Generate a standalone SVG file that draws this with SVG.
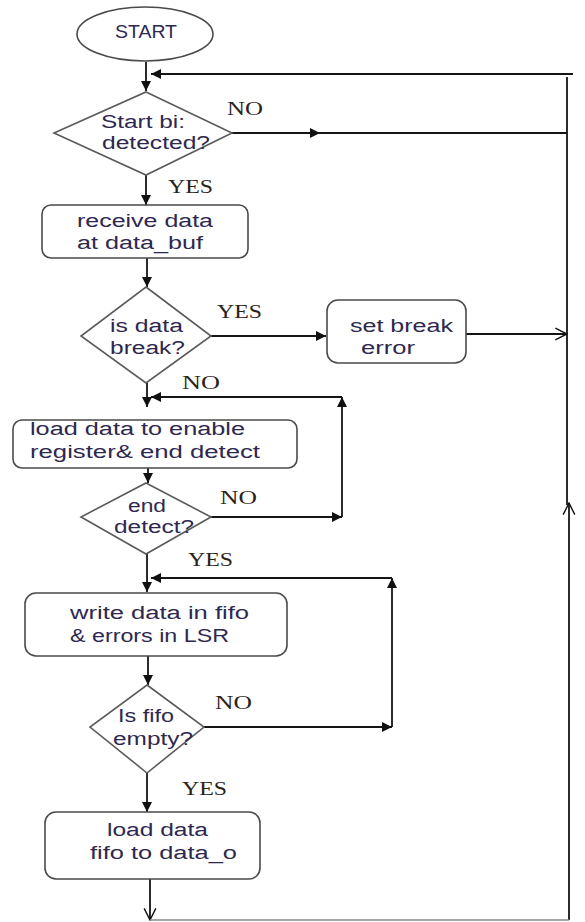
<svg xmlns="http://www.w3.org/2000/svg" width="585" height="922" viewBox="0 0 585 922">
<defs>
<style>
.shape{fill:#fff;stroke:#4a4a4a;stroke-width:1.6}
.dia{fill:#fff;stroke:#5a5a5a;stroke-width:1.6}
.t{font-family:"Liberation Sans",Arial,sans-serif;font-size:18px;fill:#2e2850}
.lb{font-family:"Liberation Serif","Times New Roman",serif;font-size:19px;fill:#2a2218}
.c{fill:none;stroke:#151515;stroke-width:1.8}
.g{fill:none;stroke:#888;stroke-width:1.5}
</style>
<marker id="arr" viewBox="0 0 10 10" refX="10" refY="5" markerWidth="12" markerHeight="10" markerUnits="userSpaceOnUse" orient="auto"><path d="M0,0 L10,5 L0,10 z" fill="#111"/></marker>
<marker id="open" viewBox="0 0 12 12" refX="11" refY="6" markerWidth="14" markerHeight="14" markerUnits="userSpaceOnUse" orient="auto"><path d="M1,1 L11,6 L1,11" fill="none" stroke="#111" stroke-width="1.2"/></marker>
</defs>
<rect width="585" height="922" fill="#fff"/>

<g id="connectors">
<line class="c" x1="146" y1="62" x2="146" y2="91" marker-end="url(#arr)"/>
<line class="c" x1="573" y1="74" x2="151" y2="74" marker-end="url(#arr)"/>
<line class="c" x1="232" y1="133" x2="320" y2="133" marker-end="url(#arr)"/>
<line class="c" x1="319" y1="133" x2="567" y2="133"/>
<line class="c" x1="567" y1="77" x2="567" y2="505"/>
<line class="c" x1="569" y1="920" x2="569" y2="503" marker-end="url(#open)"/>
<line class="c" x1="146" y1="175" x2="146" y2="205" marker-end="url(#arr)"/>
<line class="c" x1="147" y1="258" x2="147" y2="287" marker-end="url(#arr)"/>
<line class="c" x1="211" y1="336" x2="326" y2="336" marker-end="url(#arr)"/>
<line class="c" x1="466" y1="334" x2="567" y2="334" marker-end="url(#open)"/>
<line class="c" x1="147" y1="383" x2="147" y2="407" marker-end="url(#arr)"/>
<line class="c" x1="342" y1="517" x2="342" y2="397" marker-end="url(#arr)"/>
<line class="c" x1="342" y1="397" x2="151" y2="397" marker-end="url(#arr)"/>
<line class="c" x1="148" y1="468" x2="148" y2="483" marker-end="url(#arr)"/>
<line class="c" x1="211" y1="517" x2="342" y2="517" marker-end="url(#arr)"/>
<line class="c" x1="147" y1="554" x2="147" y2="592" marker-end="url(#arr)"/>
<line class="c" x1="392" y1="727" x2="392" y2="578" marker-end="url(#arr)"/>
<line class="c" x1="392" y1="578" x2="151" y2="578" marker-end="url(#arr)"/>
<line class="c" x1="148" y1="656" x2="148" y2="685" marker-end="url(#arr)"/>
<line class="c" x1="204" y1="727" x2="392" y2="727" marker-end="url(#arr)"/>
<line class="c" x1="147" y1="773" x2="147" y2="812" marker-end="url(#arr)"/>
<line class="c" x1="150" y1="879" x2="150" y2="920" marker-end="url(#open)"/>
<line class="g" x1="150" y1="920" x2="569" y2="920"/>
</g>

<g id="start">
<ellipse class="shape" cx="145" cy="34" rx="68" ry="27"/>
<text class="t" x="115" y="38" textLength="62" lengthAdjust="spacingAndGlyphs">START</text>
</g>

<g id="start-bit">
<polygon class="dia" points="146,92 232,133 146,175 54,133"/>
<text class="t" x="101" y="128" textLength="84" lengthAdjust="spacingAndGlyphs">Start bi:</text>
<text class="t" x="102" y="149" textLength="108" lengthAdjust="spacingAndGlyphs">detected?</text>
</g>

<g id="receive">
<rect class="shape" x="42" y="205" width="206" height="53" rx="9"/>
<text class="t" x="77" y="227" textLength="136" lengthAdjust="spacingAndGlyphs">receive data</text>
<text class="t" x="77" y="249" textLength="126" lengthAdjust="spacingAndGlyphs">at data_buf</text>
</g>

<g id="data-break">
<polygon class="dia" points="146,287 211,336 146,383 81,336"/>
<text class="t" x="110" y="332" textLength="73" lengthAdjust="spacingAndGlyphs">is data</text>
<text class="t" x="110" y="354" textLength="75" lengthAdjust="spacingAndGlyphs">break?</text>
</g>

<g id="set-break">
<rect class="shape" x="327" y="300" width="139" height="63" rx="11"/>
<text class="t" x="350" y="332" textLength="103" lengthAdjust="spacingAndGlyphs">set break</text>
<text class="t" x="361" y="354" textLength="54" lengthAdjust="spacingAndGlyphs">error</text>
</g>

<g id="load-enable">
<rect class="shape" x="13" y="420" width="284" height="48" rx="9"/>
<text class="t" x="30" y="435" textLength="215" lengthAdjust="spacingAndGlyphs">load data to enable</text>
<text class="t" x="30" y="458" textLength="230" lengthAdjust="spacingAndGlyphs">register&amp; end detect</text>
</g>

<g id="end-detect">
<polygon class="dia" points="146,483 211,517 146,554 81,517"/>
<text class="t" x="128" y="512" textLength="38" lengthAdjust="spacingAndGlyphs">end</text>
<text class="t" x="114" y="533" textLength="80" lengthAdjust="spacingAndGlyphs">detect?</text>
</g>

<g id="write-fifo">
<rect class="shape" x="25" y="593" width="262" height="63" rx="11"/>
<text class="t" x="70" y="619" textLength="179" lengthAdjust="spacingAndGlyphs">write data in fifo</text>
<text class="t" x="70" y="642" textLength="159" lengthAdjust="spacingAndGlyphs">&amp; errors in LSR</text>
</g>

<g id="fifo-empty">
<polygon class="dia" points="147,685 204,727 147,773 90,727"/>
<text class="t" x="118" y="722" textLength="56" lengthAdjust="spacingAndGlyphs">Is fifo</text>
<text class="t" x="113" y="745" textLength="80" lengthAdjust="spacingAndGlyphs">empty?</text>
</g>

<g id="load-out">
<rect class="shape" x="45" y="812" width="215" height="67" rx="11"/>
<text class="t" x="107" y="836" textLength="101" lengthAdjust="spacingAndGlyphs">load data</text>
<text class="t" x="90" y="859" textLength="147" lengthAdjust="spacingAndGlyphs">fifo to data_o</text>
</g>

<g id="labels">
<text class="lb" x="227" y="115" textLength="36" lengthAdjust="spacingAndGlyphs">NO</text>
<text class="lb" x="168" y="193" textLength="45" lengthAdjust="spacingAndGlyphs">YES</text>
<text class="lb" x="217" y="318" textLength="45" lengthAdjust="spacingAndGlyphs">YES</text>
<text class="lb" x="182" y="389" textLength="38" lengthAdjust="spacingAndGlyphs">NO</text>
<text class="lb" x="220" y="504" textLength="37" lengthAdjust="spacingAndGlyphs">NO</text>
<text class="lb" x="188" y="566" textLength="45" lengthAdjust="spacingAndGlyphs">YES</text>
<text class="lb" x="215" y="709" textLength="37" lengthAdjust="spacingAndGlyphs">NO</text>
<text class="lb" x="182" y="795" textLength="45" lengthAdjust="spacingAndGlyphs">YES</text>
</g>
</svg>
